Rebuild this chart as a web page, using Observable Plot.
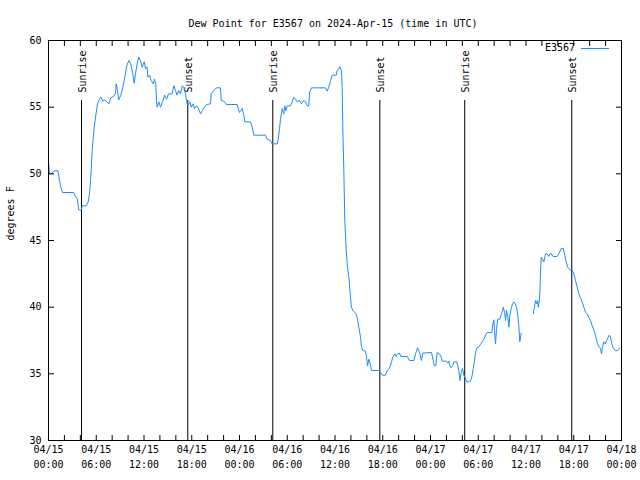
<!DOCTYPE html>
<html><head><meta charset="utf-8">
<script src="https://cdn.jsdelivr.net/npm/d3@7"></script>
<script src="https://cdn.jsdelivr.net/npm/@observablehq/plot@0.6"></script>
<style>body{margin:0;background:#fff} svg{display:block}</style>
</head><body><div id="chart"></div>
<script>
const title = "Dew Point for E3567 on 2024-Apr-15 (time in UTC)";
const yLabel = "degrees F";
const seriesName = "E3567";
const startTime = "2024-04-15T00:00:00Z";
// hours after 2024-04-15 00:00 UTC
const hoursFromStart = [
  0.0,0.13,0.38,0.63,1.13,1.26,1.38,1.55,1.76,3.18,
  3.30,3.6,3.73,3.81,4.15,4.23,4.74,4.99,5.15,5.32,
  5.49,5.74,5.91,6.16,6.41,6.57,6.82,7.07,7.33,7.58,
  7.83,8.17,8.42,8.51,8.67,8.83,9.09,9.34,9.59,9.84,
  10.09,10.34,10.59,10.77,10.93,11.18,11.35,11.6,11.77,12.03,
  12.19,12.4,12.48,12.69,12.9,13.16,13.32,13.48,13.57,13.66,
  13.86,14.07,14.33,14.58,14.83,15.08,15.54,15.75,15.96,16.17,
  16.37,16.59,16.8,17.0,17.22,17.34,17.5,17.76,17.93,18.18,
  18.35,18.6,18.85,19.1,19.35,19.6,19.85,20.36,20.44,20.7,
  21.11,21.61,21.7,22.03,22.37,23.71,23.99,24.16,24.34,24.54,
  24.67,25.38,25.6,25.8,27.27,27.48,27.9,28.11,28.74,28.86,
  29.03,29.15,29.37,29.57,29.69,29.82,30.0,30.41,30.62,30.82,
  31.04,31.25,31.54,31.79,32.08,32.29,32.51,32.71,32.8,33.05,
  34.81,35.02,35.22,35.44,35.65,36.15,36.28,36.48,36.6,36.82,
  36.91,36.98,37.11,37.23,37.41,37.57,37.74,37.91,38.07,38.24,
  38.49,38.67,38.83,38.99,39.21,39.33,39.5,39.83,39.96,40.09,
  40.25,40.42,40.59,41.5,41.71,41.93,42.34,42.56,42.85,43.1,
  43.26,43.51,43.69,43.86,44.11,44.27,45.07,45.36,45.9,46.12,
  46.37,46.62,46.87,47.03,48.13,48.34,48.5,48.67,48.84,49.13,
  49.35,49.47,50.01,50.18,50.3,50.43,50.6,50.77,50.93,51.27,
  51.43,51.56,51.69,51.86,52.02,52.19,52.36,52.53,52.94,53.12,
  53.24,53.37,53.53,53.66,53.87,54.07,54.28,54.49,54.7,54.91,
  55.12,55.7,55.83,55.96,56.04,56.17,56.3,56.46,56.71,56.89,
  57.05,57.14,57.31,57.43,57.56,57.72,57.85,57.97,58.14,58.31,
  58.47,58.64,58.81,58.97,59.1,59.22,59.31,59.4,
  60.1,
  60.91,61.08,61.2,61.32,61.45,61.54,61.66,61.74,61.82,61.91,
  62.07,62.24,62.45,62.66,62.86,63.08,63.41,63.91,64.12,64.42,
  64.68,64.84,65.0,65.25,65.51,65.81,66.01,66.22,66.43,66.64,
  66.85,67.06,67.27,67.48,67.69,67.89,68.1,68.32,68.52,68.73,
  68.95,69.15,69.36,69.49,69.61,69.78,69.96,70.12,70.28,70.46,
  70.62,70.79,70.96,71.21,71.54,71.79
];
const dewPointF = [
  50.9,50.0,50.0,50.2,50.25,50.0,49.5,49.0,48.6,48.6,
  48.4,48.15,47.6,47.3,47.3,47.6,47.6,47.9,48.5,49.75,
  51.75,53.5,54.25,55.25,55.6,55.75,55.45,55.55,55.4,55.25,
  55.7,55.8,56.05,56.75,56.25,55.55,55.9,56.5,57.25,58.1,
  58.5,58.25,57.5,56.8,57.5,58.4,58.75,58.4,58.0,58.4,
  57.9,58.0,57.25,57.4,57.0,56.75,57.1,56.75,55.5,55.0,
  55.4,55.0,55.4,55.9,55.6,56.0,56.0,56.6,56.25,55.9,
  56.25,56.0,56.6,56.5,56.0,55.5,55.1,55.4,55.0,55.25,
  54.9,55.1,54.9,54.5,54.75,55.0,55.2,55.25,56.0,56.2,
  56.45,56.45,55.5,55.45,55.2,55.2,54.6,54.75,54.9,54.4,
  53.9,53.9,53.5,52.9,52.9,52.6,52.5,52.25,52.25,52.6,
  53.4,54.1,54.9,54.5,55.1,54.75,55.1,55.1,55.4,55.75,
  55.6,55.4,55.5,55.25,55.5,55.4,55.1,55.1,56.1,56.45,
  56.45,56.2,56.5,57.0,57.4,57.4,57.75,57.9,58.05,57.75,
  56.25,53.5,50.25,46.5,44.25,43.0,42.25,41.0,40.0,39.75,
  39.6,39.5,39.1,38.5,37.75,37.0,36.75,36.7,36.25,35.6,
  36.1,35.75,35.25,35.25,35.1,34.9,34.9,35.25,35.4,35.9,
  36.25,36.5,36.3,36.5,36.55,36.3,36.3,36.0,36.0,36.5,
  36.95,36.6,36.0,36.55,36.6,36.0,35.6,35.6,36.6,36.5,
  36.25,35.95,35.95,35.8,35.95,35.6,35.45,35.6,35.9,35.9,
  35.6,35.25,34.5,35.1,35.4,34.9,34.7,34.4,34.4,34.6,
  34.9,35.4,36.0,36.6,37.0,37.0,37.2,37.4,37.6,37.9,
  38.1,38.1,38.75,39.05,38.25,37.25,38.4,39.1,39.1,39.5,
  39.7,40.0,39.6,39.0,39.75,39.25,38.5,39.4,39.9,40.25,
  40.4,40.25,40.0,39.4,38.6,37.4,37.75,38.05,
  null,
  39.5,40.1,40.5,40.25,40.5,40.0,40.4,41.0,42.5,43.75,
  43.6,43.4,44.0,44.0,43.8,44.05,43.8,43.8,44.0,44.4,
  44.4,44.0,43.5,43.0,42.8,42.8,42.5,42.0,41.5,41.0,
  40.7,40.4,40.0,39.6,39.5,39.25,39.0,38.6,38.3,37.9,
  37.3,37.05,36.9,36.5,37.0,37.4,37.25,37.5,37.7,37.9,
  37.75,37.25,36.95,36.75,36.75,36.95
];
const sunEventTimes = ["2024-04-15T04:09Z","2024-04-15T17:30Z","2024-04-16T04:11Z","2024-04-16T17:38Z","2024-04-17T04:18Z","2024-04-17T17:45Z"];
const sunEventLabels = ["Sunrise","Sunset","Sunrise","Sunset","Sunrise","Sunset"];
const xTickTimes = [
  "2024-04-15T00:00Z","2024-04-15T06:00Z","2024-04-15T12:00Z","2024-04-15T18:00Z",
  "2024-04-16T00:00Z","2024-04-16T06:00Z","2024-04-16T12:00Z","2024-04-16T18:00Z",
  "2024-04-17T00:00Z","2024-04-17T06:00Z","2024-04-17T12:00Z","2024-04-17T18:00Z",
  "2024-04-18T00:00Z"
];
const yTicks = [30, 35, 40, 45, 50, 55, 60];

const font = "DejaVu Sans Mono";
const lineColor = "#1a8cff";
const t0 = new Date(startTime).getTime();
const data = hoursFromStart.map((h, i) => ({time: new Date(t0 + h * 3600e3), value: dewPointF[i]}));
const sun = sunEventTimes.map((t, i) => ({time: new Date(t), label: sunEventLabels[i]}));
const xTicks = xTickTimes.map(t => new Date(t));
const xMinor = d3.utcHour.every(2).range(xTicks[0], new Date(+xTicks[xTicks.length - 1] + 1));
const fmtDate = d3.utcFormat("%m/%d");
const fmtTime = d3.utcFormat("%H:%M");

const legend = (index, scales, values, dims) => {
  const g = d3.create("svg:g");
  const xr = dims.width - dims.marginRight;
  const y = dims.marginTop + 8;
  g.append("text").attr("x", xr - 46).attr("y", y).attr("dy", "0.32em")
    .attr("text-anchor", "end").attr("font-family", font).attr("font-size", 10)
    .attr("fill", "#000").text(seriesName);
  g.append("line").attr("x1", xr - 40).attr("x2", xr - 12).attr("y1", y + 0.5).attr("y2", y + 0.5)
    .attr("stroke", lineColor).attr("stroke-width", 1);
  return g.node();
};

const chart = Plot.plot({
  width: 640, height: 480,
  marginLeft: 48, marginRight: 19, marginTop: 40, marginBottom: 40,
  style: {fontFamily: font, fontSize: "10px", background: "#fff", color: "#000"},
  x: {type: "utc", domain: [xTicks[0], xTicks[xTicks.length - 1]]},
  y: {domain: [30, 60]},
  marks: [
    Plot.ruleX(sun, {x: "time", y1: 30, y2: 55.5, stroke: "#000", strokeWidth: 1}),
    Plot.text(sun, {x: "time", y: 56.1, text: "label", rotate: -90, textAnchor: "start", dx: 1, fill: "#000"}),
    Plot.line(data, {x: "time", y: "value", stroke: lineColor, strokeWidth: 1}),
    Plot.frame({stroke: "#000"}),
    Plot.axisY({anchor: "left", ticks: yTicks, tickSize: 0, tickPadding: 7, label: null}),
    Plot.axisY({anchor: "left", ticks: yTicks, tickSize: 6, dx: 6, fill: "none", label: null}),
    Plot.axisY({anchor: "right", ticks: yTicks, tickSize: 6, dx: -6, fill: "none", label: null}),
    Plot.axisX({anchor: "bottom", ticks: xMinor, tickSize: 5, dy: -5, fill: "none", label: null}),
    Plot.axisX({anchor: "top", ticks: xMinor, tickSize: 5, dy: 5, fill: "none", label: null}),
    Plot.text(xTicks, {x: d => d, frameAnchor: "bottom", dy: 12, text: d => fmtDate(d), fill: "#000"}),
    Plot.text(xTicks, {x: d => d, frameAnchor: "bottom", dy: 27, text: d => fmtTime(d), fill: "#000"}),
    Plot.text([title], {frameAnchor: "top", dy: -21, dx: -2, fill: "#000"}),
    Plot.text([yLabel], {frameAnchor: "left", dx: -38, rotate: -90, fill: "#000"}),
    legend
  ]
});
document.getElementById("chart").appendChild(chart);
</script>
</body></html>
